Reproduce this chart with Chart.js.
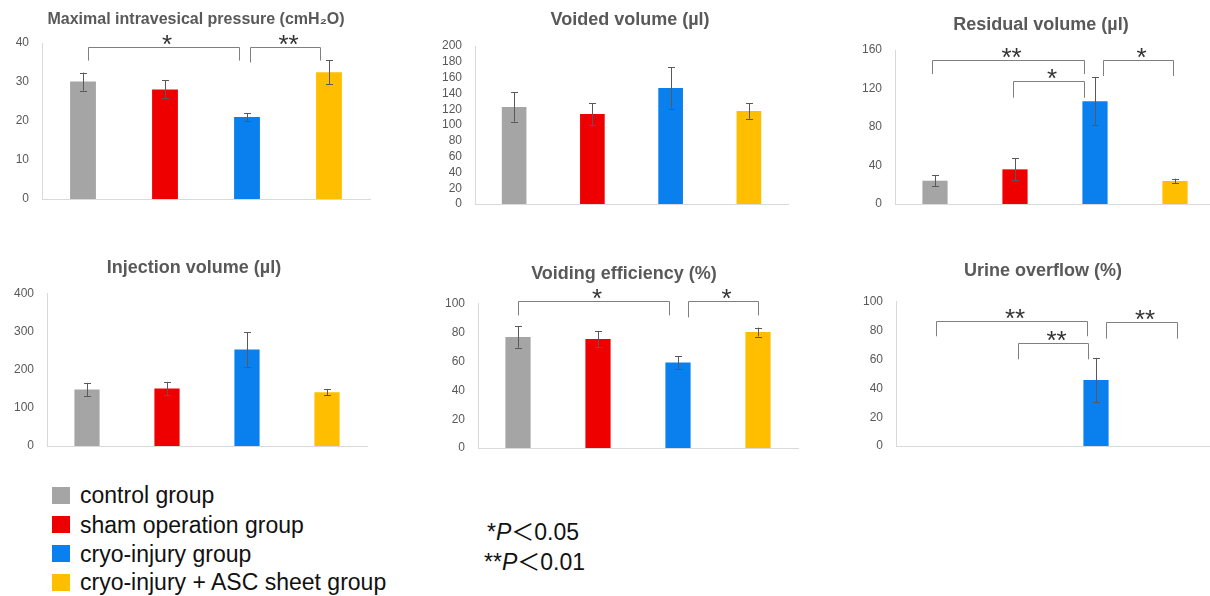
<!DOCTYPE html>
<html>
<head>
<meta charset="utf-8">
<script src="https://cdn.jsdelivr.net/npm/chart.js@4.4.1/dist/chart.umd.min.js"></script>
<style>
  html, body { margin:0; padding:0; background:#fff; width:1210px; height:596px; overflow:hidden; }
  canvas { position:absolute; }
  .leg { position:absolute; font-family:"Liberation Sans", Arial, "Noto Sans CJK JP", sans-serif; font-size:23px; color:#111; white-space:nowrap; }
  .sq { position:absolute; width:18px; height:17px; }
</style>
</head>
<body>
<div id="root"></div>
<script>
// ---------- data ----------
const groups = ['control group', 'sham operation group', 'cryo-injury group', 'cryo-injury + ASC sheet group'];
const groupColors = ['#A5A5A5', '#EE0000', '#0A80EE', '#FFBF00'];

const pressure      = [30.1, 28.1, 21.0, 32.5];
const pressureErr   = [2.3, 2.3, 1.0, 3.1];
const pressureTicks = [0, 10, 20, 30, 40];

const voided        = [122.8, 113.9, 146.8, 117.7];
const voidedErr     = [18.5, 14, 26, 10];
const voidedTicks   = [0, 20, 40, 60, 80, 100, 120, 140, 160, 180, 200];

const residual      = [24.2, 36.0, 106.7, 23.9];
const residualErr   = [6, 11.5, 25, 2.4];
const residualTicks = [0, 40, 80, 120, 160];

const injection      = [148.7, 151.3, 254, 141.6];
const injectionErr   = [17.5, 17.5, 45, 8.5];
const injectionTicks = [0, 100, 200, 300, 400];

const efficiency      = [77.1, 75.7, 59.4, 80.5];
const efficiencyErr   = [7.4, 5.6, 4.4, 3.1];
const efficiencyTicks = [0, 20, 40, 60, 80, 100];

const overflow      = [0, 0, 45.8, 0];
const overflowErr   = [0, 0, 15.4, 0];
const overflowTicks = [0, 20, 40, 60, 80, 100];

// significance brackets: [fromIndex, toIndex, topValue, leftLegValue, rightLegValue, label]
const pressureSig   = [[0.06, 1.9, 39, 35.5, 35.5, '*'], [2.04, 2.89, 39, 35, 35.5, '**']];
const residualSig   = [[-0.035, 1.86, 150, 135, 135, '**'], [0.98, 1.86, 127.8, 110.4, 110.4, '*'], [2.1, 2.98, 149.6, 133, 133, '*']];
const efficiencySig = [[0, 1.89, 101.8, 92.1, 92.1, '*'], [2.13, 3.0, 101.8, 90.7, 92.1, '*']];
const overflowSig   = [[0, 1.89, 86.6, 76.2, 76.2, '**'], [1.02, 1.9, 71.5, 60.2, 60.2, '**'], [2.13, 3.01, 86.1, 74.6, 74.6, '**']];

const pLabels = ['*', '**'];
const pTexts  = ['0.05', '0.01'];

// ---------- layout (styling only) ----------
const panels = [
  { title: 'Maximal intravesical pressure (cmH₂O)', size: 16, values: pressure, errors: pressureErr, ticks: pressureTicks, sig: pressureSig,
    area: [42, 370, 43, 199], tc: [196, 20], row: 0 },
  { title: 'Voided volume (µl)', size: 18, values: voided, errors: voidedErr, ticks: voidedTicks, sig: [],
    area: [475, 788, 46, 204], tc: [630, 20], row: 0 },
  { title: 'Residual volume (µl)', size: 18, values: residual, errors: residualErr, ticks: residualTicks, sig: residualSig,
    area: [895, 1215, 50, 204], tc: [1041, 25], row: 0 },
  { title: 'Injection volume (µl)', size: 18, values: injection, errors: injectionErr, ticks: injectionTicks, sig: [],
    area: [47, 367, 294, 446], tc: [194, 268], row: 1 },
  { title: 'Voiding efficiency (%)', size: 18, values: efficiency, errors: efficiencyErr, ticks: efficiencyTicks, sig: efficiencySig,
    area: [478, 798, 304, 448], tc: [624, 274], row: 1 },
  { title: 'Urine overflow (%)', size: 18, values: overflow, errors: overflowErr, ticks: overflowTicks, sig: overflowSig,
    area: [896, 1216, 302, 446], tc: [1043, 271], row: 1 }
];

const FONT = '"Liberation Sans", Arial, sans-serif';
const TEXT_GRAY = '#595959';
const AXIS_GRAY = '#D9D9D9';

const overlayPlugin = {
  id: 'overlay',
  afterDatasetsDraw(chart, args, opts) {
    const ctx = chart.ctx;
    const xs = chart.scales.x, ys = chart.scales.y;
    const meta = chart.getDatasetMeta(0);
    ctx.save();
    // error bars
    ctx.strokeStyle = '#595959';
    ctx.lineWidth = 1;
    opts.errors.forEach((e, i) => {
      if (!e) return;
      const v = opts.values[i];
      const x = Math.round(meta.data[i].x) + 0.5;
      const yt = ys.getPixelForValue(v + e), yb = ys.getPixelForValue(v - e);
      ctx.beginPath();
      ctx.moveTo(x, yt); ctx.lineTo(x, yb);
      ctx.moveTo(x - 3.5, Math.round(yt) + 0.5); ctx.lineTo(x + 3.5, Math.round(yt) + 0.5);
      ctx.moveTo(x - 3.5, Math.round(yb) + 0.5); ctx.lineTo(x + 3.5, Math.round(yb) + 0.5);
      ctx.stroke();
    });
    // significance brackets
    opts.sig.forEach(s => {
      const x1 = Math.round(xs.getPixelForValue(s[0])) + 0.5;
      const x2 = Math.round(xs.getPixelForValue(s[1])) + 0.5;
      const yt = Math.round(ys.getPixelForValue(s[2])) + 0.5;
      const y1 = ys.getPixelForValue(s[3]);
      const y2 = ys.getPixelForValue(s[4]);
      ctx.strokeStyle = '#7F7F7F';
      ctx.lineWidth = 1;
      ctx.beginPath();
      ctx.moveTo(x1, y1); ctx.lineTo(x1, yt); ctx.lineTo(x2, yt); ctx.lineTo(x2, y2);
      ctx.stroke();
      ctx.fillStyle = '#333333';
      ctx.font = '26px ' + FONT;
      ctx.textAlign = 'center';
      ctx.textBaseline = 'alphabetic';
      const m = ctx.measureText(s[5]);
      const cy = yt - 7.5;
      const base = cy + (m.actualBoundingBoxAscent - m.actualBoundingBoxDescent) / 2;
      ctx.fillText(s[5], (x1 + x2) / 2 + 3, base);
    });
    ctx.restore();
  }
};

const root = document.getElementById('root');
panels.forEach(p => {
  const [l, r, t, b] = p.area;
  const [cx, cy] = p.tc;
  const YW = 40;
  const L = l - YW;
  const W = 2 * (cx - L);
  const rw = L + W - r;
  const T = p.row === 0 ? 0 : 236;
  const pt = cy - 0.6 * p.size - T;
  const tb = t - cy - 0.6 * p.size;
  const pb = 10;
  const H = b + pb - T;
  const cv = document.createElement('canvas');
  cv.width = W; cv.height = H;
  cv.style.left = L + 'px'; cv.style.top = T + 'px';
  cv.style.width = W + 'px'; cv.style.height = H + 'px';
  root.appendChild(cv);
  const tickArr = p.ticks;
  new Chart(cv, {
    type: 'bar',
    data: {
      labels: groups,
      datasets: [{
        data: p.values,
        backgroundColor: groupColors,
        borderWidth: 0,
        barPercentage: 0.315,
        categoryPercentage: 1
      }]
    },
    options: {
      responsive: false,
      animation: false,
      devicePixelRatio: 1,
      layout: { padding: { left: 0, right: 0, top: pt, bottom: pb } },
      plugins: {
        legend: { display: false },
        tooltip: { enabled: false },
        title: {
          display: true, text: p.title, color: TEXT_GRAY,
          font: { family: FONT, size: p.size, weight: 'bold', lineHeight: 1.2 },
          padding: { top: 0, bottom: tb }
        },
        overlay: { values: p.values, errors: p.errors, sig: p.sig }
      },
      scales: {
        x: {
          type: 'category',
          grid: { display: false, drawTicks: false },
          ticks: { display: false },
          border: { display: true, color: AXIS_GRAY, width: 1 },
          afterFit(s) { s.height = 0; s.paddingLeft = 0; s.paddingRight = 0; }
        },
        y: {
          type: 'linear',
          position: 'left',
          min: tickArr[0], max: tickArr[tickArr.length - 1],
          grid: { display: false, drawTicks: false },
          border: { display: true, color: AXIS_GRAY, width: 1 },
          ticks: { color: TEXT_GRAY, padding: 13, autoSkip: false, font: { family: FONT, size: 12 } },
          afterBuildTicks(s) { s.ticks = tickArr.map(v => ({ value: v })); },
          afterFit(s) { s.width = YW; s.paddingTop = 0; s.paddingBottom = 0; }
        },
        yR: {
          type: 'linear',
          position: 'right',
          display: true,
          grid: { display: false, drawTicks: false },
          border: { display: false },
          ticks: { display: false },
          afterFit(s) { s.width = rw; s.paddingTop = 0; s.paddingBottom = 0; }
        }
      }
    },
    plugins: [overlayPlugin]
  });
});

// legend (HTML, built from the same arrays)
const legendRows = [495, 524.5, 553.5, 582];
groups.forEach((g, i) => {
  const sq = document.createElement('div');
  sq.className = 'sq';
  sq.style.left = '52px';
  sq.style.top = (legendRows[i] - 8.5) + 'px';
  sq.style.background = groupColors[i];
  document.body.appendChild(sq);
  const tx = document.createElement('div');
  tx.className = 'leg';
  tx.style.left = '80px';
  tx.style.top = (legendRows[i] - 14) + 'px';
  tx.style.lineHeight = '28px';
  tx.textContent = g;
  document.body.appendChild(tx);
});
const pRows = [530, 560];
pLabels.forEach((s, i) => {
  const d = document.createElement('div');
  d.className = 'leg';
  d.style.left = (i === 0 ? 487 : 484) + 'px';
  d.style.top = (pRows[i] - 14) + 'px';
  d.style.lineHeight = '28px';
  d.innerHTML = s + '<i>P</i><span style="font-family:\'Noto Sans CJK JP\'">＜</span>' + pTexts[i];
  document.body.appendChild(d);
});
</script>
</body>
</html>
